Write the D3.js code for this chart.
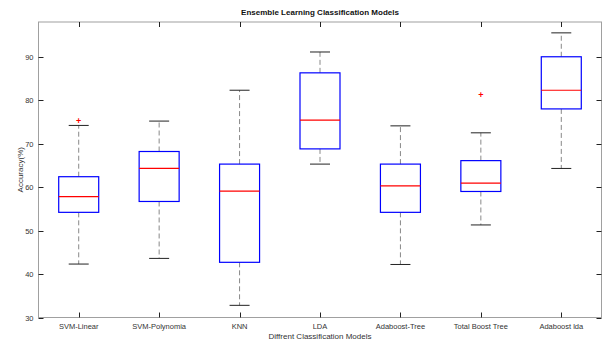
<!DOCTYPE html>
<html><head><meta charset="utf-8">
<script src="https://cdn.jsdelivr.net/npm/d3@7"></script>
<style>body{margin:0;background:#fff}svg{display:block}text{font-family:"Liberation Sans",Arial,sans-serif}</style>
</head><body><svg id="c" width="604" height="342"></svg>
<script>
const categories = ["SVM-Linear","SVM-Polynomia","KNN","LDA","Adaboost-Tree","Total Boost Tree","Adaboost lda"];
const lowerWhisker = [42.3, 43.6, 32.8, 65.3, 42.2, 51.3, 64.3];
const q1 = [54.2, 56.7, 42.7, 68.8, 54.2, 59.0, 78.0];
const median = [57.8, 64.3, 59.1, 75.4, 60.3, 60.9, 82.3];
const q3 = [62.4, 68.2, 65.3, 86.3, 65.3, 66.1, 90.0];
const upperWhisker = [74.2, 75.2, 82.3, 91.1, 74.1, 72.5, 95.5];
const outliers = [[75.2], [], [], [], [], [81.1], []];
const yTicks = [30, 40, 50, 60, 70, 80, 90];

const svg = d3.select("#c");
const m = {l: 38.5, r: 601.5, t: 22, b: 317.5};
const x = d3.scaleLinear().domain([0.5, 7.5]).range([m.l, m.r]);
const y = d3.scaleLinear().domain([30, 98]).range([m.b, m.t]);
const bw = 20, cw = 10;

// axes box
const axisCol = "#a0a0a0";
const g = svg.append("g");
g.append("rect").attr("x", m.l).attr("y", m.t).attr("width", m.r - m.l).attr("height", m.b - m.t)
  .attr("fill", "none").attr("stroke", axisCol).attr("stroke-width", 1);

// ticks
const tl = 5;
categories.forEach((c, i) => {
  const px = Math.round(x(i + 1)) + 0.5;
  g.append("line").attr("x1", px).attr("x2", px).attr("y1", m.b).attr("y2", m.b - tl).attr("stroke", "#222");
  g.append("line").attr("x1", px).attr("x2", px).attr("y1", m.t).attr("y2", m.t + tl).attr("stroke", "#222");
  g.append("text").attr("x", x(i + 1)).attr("y", 329).attr("text-anchor", "middle")
    .attr("font-size", 7.5).attr("fill", "#333").text(c);
});
yTicks.forEach(t => {
  const py = Math.round(y(t)) + 0.5;
  g.append("line").attr("x1", m.l).attr("x2", m.l + tl).attr("y1", py).attr("y2", py).attr("stroke", "#222");
  g.append("line").attr("x1", m.r).attr("x2", m.r - tl).attr("y1", py).attr("y2", py).attr("stroke", "#222");
  g.append("text").attr("x", m.l - 5).attr("y", py + 2.5).attr("text-anchor", "end")
    .attr("font-size", 7.5).attr("fill", "#333").text(t);
});

// boxes
categories.forEach((c, i) => {
  const cx = x(i + 1);
  const bg = svg.append("g");
  // whiskers
  bg.append("line").attr("x1", cx).attr("x2", cx).attr("y1", y(q3[i])).attr("y2", y(upperWhisker[i]))
    .attr("stroke", "#888").attr("stroke-dasharray", "5,3");
  bg.append("line").attr("x1", cx).attr("x2", cx).attr("y1", y(q1[i])).attr("y2", y(lowerWhisker[i]))
    .attr("stroke", "#888").attr("stroke-dasharray", "5,3");
  // caps
  [upperWhisker[i], lowerWhisker[i]].forEach(v => {
    bg.append("line").attr("x1", cx - cw).attr("x2", cx + cw).attr("y1", y(v)).attr("y2", y(v))
      .attr("stroke", "#222").attr("stroke-width", 1);
  });
  // box
  bg.append("rect").attr("x", cx - bw).attr("y", y(q3[i])).attr("width", 2 * bw).attr("height", y(q1[i]) - y(q3[i]))
    .attr("fill", "none").attr("stroke", "#0000ff").attr("stroke-width", 1.2);
  // median
  bg.append("line").attr("x1", cx - bw).attr("x2", cx + bw).attr("y1", y(median[i])).attr("y2", y(median[i]))
    .attr("stroke", "#ff0000").attr("stroke-width", 1.2);
  // outliers
  outliers[i].forEach(v => {
    bg.append("text").attr("x", cx).attr("y", y(v) + 3).attr("text-anchor", "middle")
      .attr("font-size", 9).attr("font-weight", "bold").attr("fill", "#ff0000").text("+");
  });
});

// title and labels
svg.append("text").attr("x", (m.l + m.r) / 2).attr("y", 15).attr("text-anchor", "middle")
  .attr("font-size", 8).attr("font-weight", "bold").attr("fill", "#111").text("Ensemble Learning Classification Models");
svg.append("text").attr("x", (m.l + m.r) / 2).attr("y", 339).attr("text-anchor", "middle")
  .attr("font-size", 8).attr("fill", "#333").text("Diffrent Classification Models");
svg.append("text").attr("transform", `translate(23,${(m.t + m.b) / 2}) rotate(-90)`).attr("text-anchor", "middle")
  .attr("font-size", 8).attr("fill", "#333").text("Accuracy(%)");
</script></body></html>
